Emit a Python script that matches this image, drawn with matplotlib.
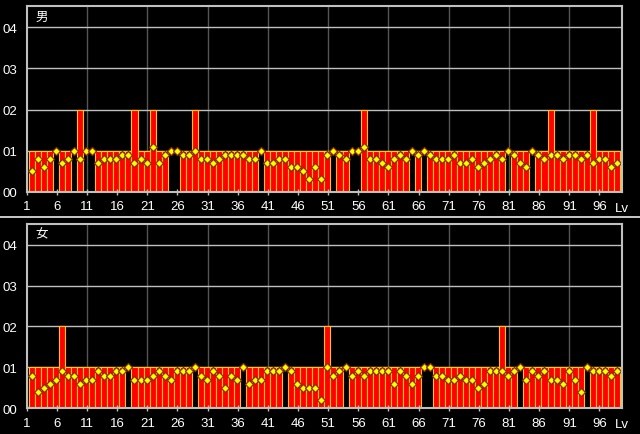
import numpy as np
import matplotlib

matplotlib.use('Agg')

import matplotlib.pyplot as plt
from matplotlib.lines import Line2D

plt.rcParams['font.family'] = ['Liberation Sans', 'Noto Sans CJK JP', 'DejaVu Sans']

# levels 1..98
levels = np.arange(1, 99)

# bar heights (units of 0.01) and marker values
male_bars = [1, 1, 1, 1, 0, 1, 1, 0, 2, 0,
             0, 1, 1, 1, 1, 1, 1, 2, 1, 1,
             2, 1, 1, 0, 0, 1, 1, 2, 1, 1,
             1, 1, 1, 1, 1, 1, 1, 1, 0, 1,
             1, 1, 1, 1, 1, 1, 1, 1, 1, 1,
             0, 1, 1, 0, 0, 2, 1, 1, 1, 1,
             1, 1, 1, 0, 1, 0, 1, 1, 1, 1,
             1, 1, 1, 1, 1, 1, 1, 1, 1, 0,
             1, 1, 1, 0, 1, 1, 2, 1, 1, 1,
             1, 1, 1, 2, 1, 1, 1, 1]
male_marks = [.5, .8, .6, .8, 1.0, .7, .8, 1.0, .8, 1.0,
              1.0, .7, .8, .8, .8, .9, .9, .7, .8, .7,
              1.1, .7, .9, 1.0, 1.0, .9, .9, 1.0, .8, .8,
              .7, .8, .9, .9, .9, .9, .8, .8, 1.0, .7,
              .7, .8, .8, .6, .6, .5, .3, .6, .3, .9,
              1.0, .9, .8, 1.0, 1.0, 1.1, .8, .8, .7, .6,
              .8, .9, .8, 1.0, .9, 1.0, .9, .8, .8, .8,
              .9, .7, .7, .8, .6, .7, .8, .9, .8, 1.0,
              .9, .7, .6, 1.0, .9, .8, .9, .9, .8, .9,
              .9, .8, .9, .7, .8, .8, .6, .7]

female_bars = [1, 1, 1, 1, 1, 2, 1, 1, 1, 1,
               1, 1, 1, 1, 1, 1, 0, 1, 1, 1,
               1, 1, 1, 1, 1, 1, 1, 0, 1, 1,
               1, 1, 1, 1, 1, 0, 1, 1, 1, 1,
               1, 1, 0, 1, 1, 1, 1, 1, 1, 2,
               1, 1, 0, 1, 1, 1, 1, 1, 1, 1,
               1, 1, 1, 1, 1, 0, 0, 1, 1, 1,
               1, 1, 1, 1, 1, 1, 1, 1, 2, 1,
               1, 0, 1, 1, 1, 1, 1, 1, 1, 1,
               1, 1, 0, 1, 1, 1, 1, 1]
female_marks = [.8, .4, .5, .6, .7, .9, .8, .8, .6, .7,
                .7, .9, .8, .8, .9, .9, 1.0, .7, .7, .7,
                .8, .9, .8, .7, .9, .9, .9, 1.0, .8, .7,
                .9, .8, .5, .8, .7, 1.0, .6, .7, .7, .9,
                .9, .9, 1.0, .9, .6, .5, .5, .5, .2, 1.0,
                .8, .9, 1.0, .8, .9, .8, .9, .9, .9, .9,
                .6, .9, .8, .6, .8, 1.0, 1.0, .8, .8, .7,
                .7, .8, .7, .7, .5, .6, .9, .9, .9, .8,
                .9, 1.0, .7, .9, .8, .9, .7, .7, .6, .9,
                .7, .4, 1.0, .9, .9, .9, .8, .9]

tick_labels = [str(v) for v in range(1, 97, 5)]
ytick_labels = ['00', '01', '02', '03', '04']
titles = ['男', '女']


def draw_panel(ax, bars, marks, title):
    ax.set_facecolor('black')
    # tick k sits a bit left of bar k
    tick_pos = np.arange(1, 97, 5) - 0.88
    for x in np.arange(11, 92, 10) - 0.88:
        ax.axvline(x, color='#555555', lw=1, zorder=0)
    for y in range(1, 5):
        ax.axhline(y, color='#c0c0c0', lw=1, zorder=0)

    ax.bar(levels, bars, width=1, color='#ff0000', edgecolor='#ffc800', linewidth=0.8, zorder=1)
    ax.plot(levels, marks, 'D', ms=3.6, mfc='#ffff00', mec='#8a2a00', mew=0.9,
            linestyle='none', zorder=3)

    ax.set_xlim(0.12, 98.9)
    ax.set_ylim(0, 4.51)
    ax.set_xticks(tick_pos)
    ax.set_xticklabels(tick_labels)
    ax.set_yticks(range(5))
    ax.set_yticklabels(ytick_labels)
    ax.tick_params(axis='x', direction='inout', length=4, width=1, color='#c0c0c0',
                   labelcolor='white', labelsize=9.5, pad=4)
    ax.tick_params(axis='y', length=0, labelcolor='white', labelsize=9.5, pad=7)
    for s in ax.spines.values():
        s.set_color('#c0c0c0')
        s.set_linewidth(1.5)
        s.set_zorder(4)
    ax.text(0.014, 0.975, title, transform=ax.transAxes, color='white', fontsize=9,
            va='top', ha='left')
    ax.text(1.0, -0.055, 'Lv', transform=ax.transAxes, color='white', fontsize=9.5,
            va='top', ha='center')


fig = plt.figure(figsize=(6.4, 4.35), dpi=100, facecolor='black')
ax1 = fig.add_axes([0.0417, 0.557, 0.9306, 0.426])
ax2 = fig.add_axes([0.0417, 0.0591, 0.9306, 0.4243])

draw_panel(ax1, male_bars, male_marks, titles[0])
draw_panel(ax2, female_bars, female_marks, titles[1])

# white separator between the two panels
fig.add_artist(Line2D([0, 1], [0.4989, 0.4989], color='white', lw=1.1))

fig.savefig('out.png', dpi=100, facecolor='black')
